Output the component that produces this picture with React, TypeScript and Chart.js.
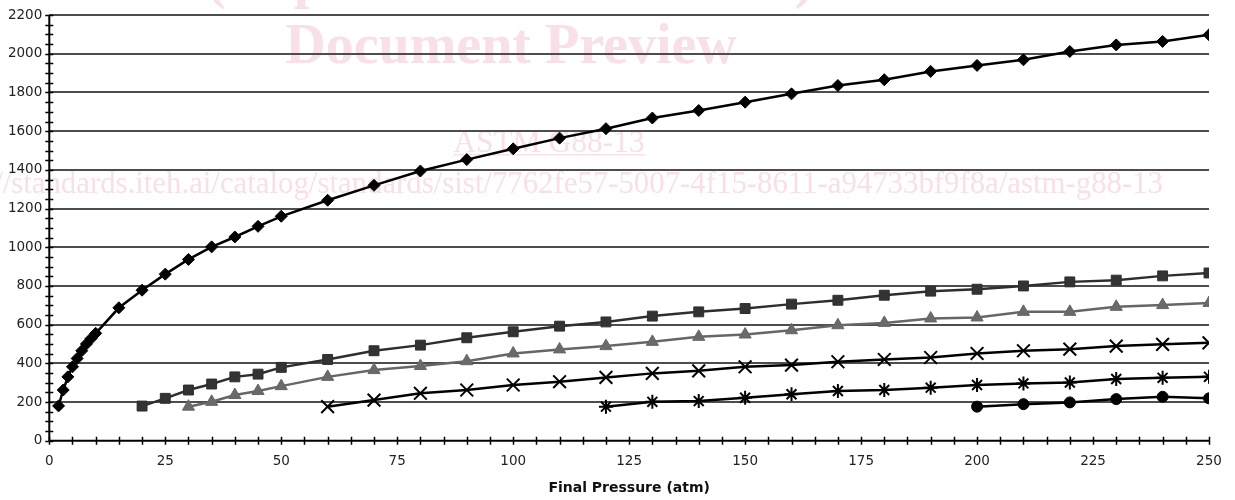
import React, { useEffect, useRef } from 'react';
import { Chart, registerables } from 'chart.js';

Chart.register(...registerables);

// Final pressure (atm) and values for each series
const p1 = [2, 3, 4, 5, 6, 7, 8, 9, 10, 15, 20, 25, 30, 35, 40, 45, 50, 60, 70, 80, 90, 100, 110, 120, 130, 140, 150, 160, 170, 180, 190, 200, 210, 220, 230, 240, 250];
const s1 = [180, 262, 330, 382, 425, 465, 500, 528, 555, 687, 778, 861, 937, 1002, 1053, 1108, 1160, 1243, 1320, 1394, 1453, 1509, 1564, 1613, 1668, 1707, 1750, 1793, 1836, 1866, 1909, 1940, 1969, 2012, 2046, 2064, 2098];

const p2 = [20, 25, 30, 35, 40, 45, 50, 60, 70, 80, 90, 100, 110, 120, 130, 140, 150, 160, 170, 180, 190, 200, 210, 220, 230, 240, 250];
const s2 = [179, 219, 262, 293, 330, 344, 379, 420, 465, 494, 532, 563, 592, 614, 644, 666, 683, 706, 726, 752, 773, 783, 800, 821, 830, 852, 867];

const p3 = [30, 35, 40, 45, 50, 60, 70, 80, 90, 100, 110, 120, 130, 140, 150, 160, 170, 180, 190, 200, 210, 220, 230, 240, 250];
const s3 = [176, 201, 236, 257, 282, 330, 365, 386, 411, 451, 472, 489, 511, 537, 549, 571, 597, 609, 632, 637, 666, 666, 692, 701, 712];

const p4 = [60, 70, 80, 90, 100, 110, 120, 130, 140, 150, 160, 170, 180, 190, 200, 210, 220, 230, 240, 250];
const s4 = [176, 210, 245, 262, 288, 305, 327, 348, 361, 382, 391, 408, 420, 430, 451, 465, 473, 489, 498, 506];

const p5 = [120, 130, 140, 150, 160, 170, 180, 190, 200, 210, 220, 230, 240, 250];
const s5 = [176, 201, 205, 222, 240, 257, 262, 274, 288, 296, 301, 319, 325, 330];

const p6 = [200, 210, 220, 230, 240, 250];
const s6 = [176, 189, 198, 215, 227, 219];

const xMin = 0;
const xMax = 250;
const xStep = 25;
const xMinorStep = 5;
const yMin = 0;
const yMax = 2200;
const yStep = 200;
const yMinorStep = 50;

const xTitle = 'Final Pressure (atm)';

const wmTop = '(https://standards.iteh.ai)';
const wmMain = 'Document Preview';
const wmCode = 'ASTM G88-13';
const wmUrl = 'https://standards.iteh.ai/catalog/standards/sist/7762fe57-5007-4f15-8611-a94733bf9f8a/astm-g88-13';

const toPoints = (xs: number[], ys: number[]) => xs.map((x, i) => ({ x, y: ys[i] }));

const watermarkPlugin = {
  id: 'watermark',
  beforeDraw(chart: any) {
    const ctx = chart.ctx;
    ctx.save();
    ctx.fillStyle = '#f9dfe6';
    ctx.textBaseline = 'alphabetic';
    ctx.textAlign = 'center';
    ctx.font = 'bold 56px "Liberation Serif"';
    ctx.fillText(wmTop, 510, -3);
    ctx.fillText(wmMain, 511, 63);
    ctx.font = '31.5px "Liberation Serif"';
    ctx.fillText(wmCode, 549, 152);
    const w = ctx.measureText(wmCode).width;
    ctx.fillRect(549 - w / 2, 154, w, 1.5);
    ctx.font = '30.8px "Liberation Serif"';
    ctx.textAlign = 'right';
    ctx.fillText(wmUrl, 1163, 193);
    ctx.restore();
  },
};

const axesPlugin = {
  id: 'customAxes',
  beforeDatasetsDraw(chart: any) {
    const ctx = chart.ctx;
    const xs = chart.scales.x;
    const ys = chart.scales.y;
    const { left, bottom, top, right } = chart.chartArea;
    ctx.save();
    ctx.strokeStyle = '#000';
    ctx.lineWidth = 1.5;
    ctx.beginPath();
    for (let v = yMin; v <= yMax; v += yMinorStep) {
      const py = Math.round(ys.getPixelForValue(v)) + 0.5;
      ctx.moveTo(left - 4, py);
      ctx.lineTo(left + 4, py);
    }
    for (let v = xMin; v <= xMax; v += xMinorStep) {
      const px = Math.round(xs.getPixelForValue(v)) + 0.5;
      ctx.moveTo(px, bottom - 4);
      ctx.lineTo(px, bottom + 4);
    }
    ctx.stroke();
    ctx.lineWidth = 2;
    ctx.beginPath();
    ctx.moveTo(left, top);
    ctx.lineTo(left, bottom + 1);
    ctx.moveTo(left - 1, bottom);
    ctx.lineTo(right, bottom);
    ctx.stroke();
    ctx.restore();
  },
};

export default function App() {
  const canvasRef = useRef<HTMLCanvasElement | null>(null);

  useEffect(() => {
    if (!canvasRef.current) return;
    const common = { showLine: true, fill: false, tension: 0 };
    const chart = new Chart(canvasRef.current, {
      type: 'line',
      data: {
        datasets: [
          {
            ...common,
            label: 'Series 1',
            data: toPoints(p1, s1),
            borderColor: '#000000',
            backgroundColor: '#000000',
            borderWidth: 2.5,
            pointStyle: 'rectRot',
            pointRadius: 6,
            pointBorderWidth: 1,
          },
          {
            ...common,
            label: 'Series 2',
            data: toPoints(p2, s2),
            borderColor: '#2e2e2e',
            backgroundColor: '#333333',
            borderWidth: 2.5,
            pointStyle: 'rect',
            pointRadius: 7,
            pointBorderWidth: 1,
          },
          {
            ...common,
            label: 'Series 3',
            data: toPoints(p3, s3),
            borderColor: '#666666',
            backgroundColor: '#6a6a6a',
            borderWidth: 2.5,
            pointStyle: 'triangle',
            pointRadius: 7,
            pointBorderWidth: 1,
          },
          {
            ...common,
            label: 'Series 4',
            data: toPoints(p4, s4),
            borderColor: '#000000',
            backgroundColor: '#000000',
            borderWidth: 2.5,
            pointStyle: 'crossRot',
            pointRadius: 9,
            pointBorderWidth: 2,
          },
          {
            ...common,
            label: 'Series 5',
            data: toPoints(p5, s5),
            borderColor: '#000000',
            backgroundColor: '#000000',
            borderWidth: 2.5,
            pointStyle: 'star',
            pointRadius: 7,
            pointBorderWidth: 2,
          },
          {
            ...common,
            label: 'Series 6',
            data: toPoints(p6, s6),
            borderColor: '#000000',
            backgroundColor: '#000000',
            borderWidth: 2.5,
            pointStyle: 'circle',
            pointRadius: 5.5,
            pointBorderWidth: 1,
          },
        ],
      },
      options: {
        animation: false,
        responsive: false,
        maintainAspectRatio: false,
        layout: { padding: { left: 0, right: 26, top: 14.6, bottom: 0 } },
        plugins: {
          legend: { display: false },
          tooltip: { enabled: false },
        },
        scales: {
          x: {
            type: 'linear',
            min: xMin,
            max: xMax,
            afterFit: (scale: any) => {
              scale.height = 59.3;
            },
            ticks: {
              stepSize: xStep,
              padding: 13,
              color: '#222',
              font: { family: 'DejaVu Sans', size: 13.5 },
              maxRotation: 0,
              callback: (v: any) => String(v),
            },
            grid: { display: false, drawTicks: false },
            border: { display: false },
            title: {
              display: true,
              text: xTitle,
              color: '#111',
              font: { family: 'DejaVu Sans', size: 14, weight: 'bold' },
              padding: { top: 0, bottom: 3 },
            },
          },
          y: {
            type: 'linear',
            min: yMin,
            max: yMax,
            afterFit: (scale: any) => {
              scale.width = 49.3;
            },
            ticks: {
              stepSize: yStep,
              padding: 7,
              color: '#222',
              font: { family: 'DejaVu Sans', size: 13.5 },
              callback: (v: any) => String(v),
            },
            grid: {
              drawTicks: false,
              color: (c: any) => (c.tick && c.tick.value === 0 ? 'rgba(0,0,0,0)' : '#4d4d4d'),
              lineWidth: 2,
            },
            border: { display: false },
          },
        },
      },
      plugins: [watermarkPlugin, axesPlugin],
    } as any);
    return () => chart.destroy();
  }, []);

  return (
    <div style={{ position: 'fixed', left: 0, top: 0, width: 1235, height: 500, background: '#fff' }}>
      <canvas ref={canvasRef} width={1235} height={500} style={{ display: 'block', width: 1235, height: 500 }} />
    </div>
  );
}
